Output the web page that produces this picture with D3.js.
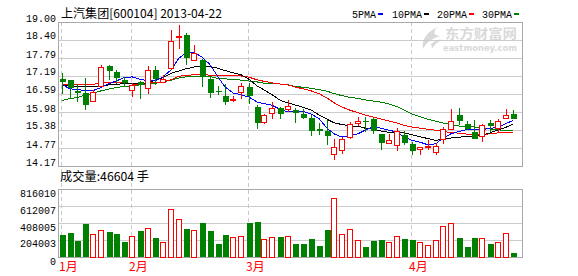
<!DOCTYPE html>
<html>
<head>
<meta charset="utf-8">
<script src="https://cdn.jsdelivr.net/npm/d3@7/dist/d3.min.js"></script>
<style>
  body { margin: 0; background: #fff; }
  svg { display: block; }
</style>
</head>
<body>
<svg id="chart" width="578" height="276"></svg>
<script>
// trading days shown (2013)
const dates = [
  '01-21','01-22','01-23','01-24','01-25','01-28','01-29','01-30','01-31',
  '02-01','02-04','02-05','02-06','02-07','02-08','02-18','02-19','02-20','02-21','02-22','02-25','02-26','02-27','02-28',
  '03-01','03-04','03-05','03-06','03-07','03-08','03-11','03-12','03-13','03-14','03-15','03-18','03-19','03-20','03-21','03-22','03-25','03-26','03-27','03-28','03-29',
  '04-01','04-02','04-03','04-08','04-09','04-10','04-11','04-12','04-15','04-16','04-17','04-18','04-19','04-22'
];
const opens = [17.08,17.04,16.70,16.62,16.36,16.85,17.52,17.32,17.04,16.74,
  16.99,16.81,17.38,16.99,17.43,18.52,18.55,17.75,17.73,17.10,
  16.69,16.52,16.36,16.63,16.82,16.15,15.62,15.96,16.12,16.06,
  16.06,15.90,15.78,15.42,15.34,14.56,14.70,15.12,15.60,15.68,
  15.74,15.23,14.93,14.86,15.22,14.91,14.74,14.80,14.64,15.07,
  15.42,15.87,15.57,15.31,15.20,15.62,15.42,15.80,15.90];
const highs = [17.29,17.05,16.93,17.12,16.72,17.56,17.57,17.40,17.14,16.97,
  17.03,17.52,17.52,17.21,18.73,18.89,18.63,18.22,17.77,17.16,
  16.85,16.93,16.52,16.95,16.95,16.21,15.90,16.32,16.15,16.37,
  16.12,16.07,15.87,15.62,15.70,15.09,15.14,15.65,15.81,15.81,
  15.79,15.25,15.25,15.44,15.33,14.97,14.80,15.03,14.95,15.48,
  16.09,16.13,15.67,15.70,15.59,15.70,15.76,16.09,16.04];
const lows = [16.60,16.45,16.32,16.06,16.35,16.81,17.05,16.93,16.83,16.48,
  16.43,16.60,16.88,16.94,17.39,18.10,17.57,17.68,16.82,16.45,
  16.54,16.23,16.32,16.43,16.24,15.42,15.59,15.76,15.76,15.98,
  15.62,15.74,15.18,15.20,14.88,14.36,14.58,15.09,15.51,15.31,
  15.25,14.72,14.93,14.68,14.88,14.55,14.55,14.70,14.55,14.92,
  15.37,15.54,15.37,15.07,14.97,15.31,15.29,15.76,15.74];
const closes = [16.99,16.79,16.63,16.23,16.65,17.48,17.37,17.13,16.95,16.90,
  16.89,17.40,17.10,17.10,18.35,18.54,17.79,17.97,17.18,16.63,
  16.67,16.32,16.41,16.84,16.52,15.62,15.87,16.12,15.92,16.17,
  15.95,15.78,15.35,15.33,15.18,14.81,15.07,15.57,15.68,15.66,
  15.33,14.95,15.03,15.33,14.95,14.67,14.80,14.84,14.85,15.42,
  15.68,15.67,15.42,15.09,15.56,15.51,15.67,15.89,15.76];
const volumes = [264000,292000,192000,396000,276000,320000,300000,276000,180000,248000,
  312000,344000,228000,180000,572000,452000,336000,320000,412000,312000,
  156000,264000,236000,248000,404000,420000,212000,236000,240000,248000,
  156000,156000,216000,132000,324000,704000,272000,332000,200000,116000,
  192000,204000,178000,248000,216000,204000,176000,140000,200000,368000,
  404000,228000,120000,228000,224000,156000,176000,284000,46604];
const ma5 = [16.90,16.76,16.73,16.71,16.70,16.80,16.93,17.02,17.13,17.16,
  17.08,17.03,17.03,17.16,17.39,17.79,17.96,17.97,17.83,17.57,
  17.16,16.82,16.62,16.56,16.48,16.32,16.26,16.21,16.07,15.98,
  16.01,16.00,15.92,15.76,15.44,15.25,15.14,15.18,15.25,15.37,
  15.48,15.44,15.37,15.31,15.14,15.03,14.97,14.88,14.92,15.11,
  15.25,15.33,15.39,15.40,15.40,15.42,15.48,15.59,15.70];
const ma10 = [16.88,16.85,16.83,16.82,16.83,16.86,16.89,16.91,16.93,16.93,
  16.93,16.96,17.04,17.13,17.28,17.36,17.43,17.49,17.51,17.50,
  17.45,17.37,17.30,17.23,17.08,16.86,16.72,16.56,16.38,16.28,
  16.22,16.14,16.05,15.88,15.74,15.62,15.56,15.52,15.50,15.44,
  15.41,15.34,15.30,15.29,15.28,15.22,15.15,15.09,15.03,15.07,
  15.11,15.14,15.15,15.18,15.21,15.28,15.38,15.47,15.58];
const ma20 = [16.91,16.91,16.91,16.91,16.91,16.95,16.98,16.98,16.96,16.92,
  16.92,16.95,16.96,17.00,17.06,17.18,17.21,17.23,17.23,17.22,
  17.21,17.21,17.20,17.19,17.15,17.06,17.01,16.96,16.92,16.89,
  16.82,16.76,16.69,16.60,16.45,16.29,16.15,16.04,15.96,15.88,
  15.81,15.75,15.68,15.61,15.53,15.48,15.44,15.40,15.37,15.32,
  15.30,15.27,15.24,15.22,15.22,15.25,15.28,15.29,15.29];
const ma30 = [16.37,16.43,16.47,16.54,16.61,16.69,16.75,16.80,16.84,16.86,
  16.89,16.91,16.94,16.99,17.05,17.12,17.16,17.17,17.18,17.17,
  17.11,17.09,17.08,17.05,17.02,16.99,16.95,16.94,16.92,16.89,
  16.84,16.81,16.78,16.73,16.68,16.60,16.53,16.47,16.44,16.39,
  16.35,16.31,16.25,16.16,16.05,15.91,15.82,15.74,15.67,15.61,
  15.56,15.51,15.50,15.48,15.44,15.41,15.38,15.37,15.37];
const priceTicks = ['19.00','18.40','17.79','17.19','16.59','15.98','15.38','14.77','14.17'];
const volTicks = ['0','204003','408005','612007','816010'];
const maNames = ['5PMA','10PMA','20PMA','30PMA'];
const maColors = ['#0000ff','#000000','#ff0000','#008000'];

const UP = '#ff0000', DOWN = '#008000';
const plotLeft = 58, plotRight = 522;
const priceTop = 22, priceBottom = 166;
const volTop = 189, volBottom = 257;
const numFont = '"Liberation Mono", "DejaVu Sans Mono", monospace';
const cjkFont = '"Noto Sans CJK SC", "DejaVu Sans", sans-serif';

var svg = d3.select('#chart');
svg.append('rect').attr('width', 578).attr('height', 276).attr('fill', '#fff');

var x = d3.scaleBand().domain(dates).range([plotLeft, 517.3]);
var cx = function (i) { return Math.round(x(dates[i]) + x.bandwidth() / 2); };
var y = d3.scaleLinear().domain([14.17, 19.00]).range([priceBottom, priceTop]);
var yv = d3.scaleLinear().domain([0, 816010]).range([volBottom, volTop]);

//watermark
var wm = svg.append('g').attr('fill', '#d9d9d9');
wm.append('path')
  .attr('d', 'M438,27 C428,31 421,39 423,49 C427,42 432,38 441,36 C434,36 432,32 438,27 Z M431,44 C435,40 439,39 442,40 C437,42 434,45 432,49 Z');
wm.append('text').attr('x', 445).attr('y', 38)
  .attr('font-family', cjkFont).attr('font-size', 13).attr('font-weight', 'bold')
  .attr('textLength', 72).attr('lengthAdjust', 'spacingAndGlyphs').text('东方财富网');
wm.append('text').attr('x', 443).attr('y', 51)
  .attr('font-family', '"DejaVu Sans", sans-serif').attr('font-size', 9).attr('font-weight', 'bold')
  .attr('textLength', 74).attr('lengthAdjust', 'spacingAndGlyphs').text('eastmoney.com');

//grid + tick labels
var styleAxis = function (g, dy) {
  g.select('.domain').remove();
  g.selectAll('line').attr('stroke', '#cccccc').attr('shape-rendering', 'crispEdges');
  g.selectAll('text')
    .attr('fill', '#000')
    .attr('dy', dy)
    .attr('font-family', numFont)
    .attr('font-size', 11)
    .attr('lengthAdjust', 'spacingAndGlyphs')
    .attr('textLength', function (d) { return String(this.textContent).length * 6; });
};

svg.append('g')
  .attr('transform', 'translate(' + plotLeft + ',0)')
  .call(d3.axisLeft(y)
    .tickValues(priceTicks.map(Number))
    .tickFormat(function (d, i) { return priceTicks[i]; })
    .tickSize(-(plotRight - plotLeft))
    .tickPadding(2))
  .call(styleAxis, '-1px');

svg.append('g')
  .attr('transform', 'translate(' + plotLeft + ',0)')
  .call(d3.axisLeft(yv)
    .tickValues(volTicks.map(Number))
    .tickFormat(function (d, i) { return volTicks[i]; })
    .tickSize(-(plotRight - plotLeft))
    .tickPadding(2))
  .call(styleAxis, '7px');

//month separators
var monthStarts = [];
dates.forEach(function (d, i) {
  if (i === 0 || d.slice(0, 2) !== dates[i - 1].slice(0, 2)) monthStarts.push(i);
});
svg.append('g').selectAll('line')
  .data(monthStarts).enter().append('line')
  .attr('x1', function (i) { return cx(i) - 0.5; })
  .attr('x2', function (i) { return cx(i) - 0.5; })
  .attr('y1', priceTop).attr('y2', volBottom)
  .attr('stroke', '#c8c8c8')
  .attr('stroke-dasharray', '4,3')
  .attr('shape-rendering', 'crispEdges');
svg.append('g').selectAll('text')
  .data(monthStarts).enter().append('text')
  .attr('x', function (i) { return cx(i) - 3; })
  .attr('y', 271)
  .attr('fill', '#ff0000')
  .attr('font-family', cjkFont)
  .attr('font-size', 12)
  .text(function (i) { return (+dates[i].slice(0, 2)) + '月'; });

//frames
[[priceTop, priceBottom], [volTop, volBottom]].forEach(function (p) {
  svg.append('rect')
    .attr('x', plotLeft + 0.5).attr('y', p[0] + 0.5)
    .attr('width', plotRight - plotLeft).attr('height', p[1] - p[0])
    .attr('fill', 'none').attr('stroke', '#a8a8a8')
    .attr('shape-rendering', 'crispEdges');
});

//moving averages
var maSeries = [ma5, ma10, ma20, ma30];
var line = d3.line()
  .x(function (d, i) { return cx(i); })
  .y(function (d) { return y(d); });
var maGroup = svg.append('g');
maSeries.slice().reverse().forEach(function (s, k) {
  maGroup.append('path')
    .attr('d', line(s))
    .attr('fill', 'none')
    .attr('stroke', maColors[3 - k])
    .attr('stroke-width', 1)
    .attr('shape-rendering', 'crispEdges');
});

//candles
var candles = svg.append('g').attr('shape-rendering', 'crispEdges');
dates.forEach(function (d, i) {
  var o = y(opens[i]), c = y(closes[i]), h = y(highs[i]), l = y(lows[i]);
  var up = closes[i] > opens[i];
  var xc = cx(i);
  if (up) {
    candles.append('line').attr('x1', xc).attr('x2', xc).attr('y1', h).attr('y2', c).attr('stroke', UP);
    candles.append('line').attr('x1', xc).attr('x2', xc).attr('y1', o).attr('y2', l).attr('stroke', UP);
    candles.append('rect')
      .attr('x', xc - 2.5).attr('y', Math.round(c) + 0.5)
      .attr('width', 5).attr('height', Math.max(1, Math.round(o - c)))
      .attr('fill', '#fff').attr('stroke', UP);
  } else {
    candles.append('line').attr('x1', xc + 0.5).attr('x2', xc + 0.5).attr('y1', h).attr('y2', l).attr('stroke', DOWN);
    candles.append('rect')
      .attr('x', xc - 2.5).attr('y', o)
      .attr('width', 6).attr('height', Math.max(1.5, c - o))
      .attr('fill', DOWN);
  }
});

//volume bars
var vols = svg.append('g').attr('shape-rendering', 'crispEdges');
vols.selectAll('rect')
  .data(volumes).enter().append('rect')
  .attr('x', function (v, i) { return cx(i) - 2.5; })
  .attr('y', function (v, i) { return closes[i] > opens[i] ? Math.round(yv(v)) + 0.5 : yv(v); })
  .attr('width', function (v, i) { return closes[i] > opens[i] ? 5 : 6; })
  .attr('height', function (v, i) { return closes[i] > opens[i] ? volBottom - Math.round(yv(v)) - 0.5 : volBottom - yv(v); })
  .attr('fill', function (v, i) { return closes[i] > opens[i] ? '#fff' : DOWN; })
  .attr('stroke', function (v, i) { return closes[i] > opens[i] ? UP : 'none'; });

//title
svg.append('text')
  .attr('x', 61).attr('y', 18)
  .attr('font-family', cjkFont).attr('font-size', 12)
  .attr('textLength', 161).attr('lengthAdjust', 'spacingAndGlyphs')
  .text('上汽集团[600104] 2013-04-22');

//legend
var legendX = [352, 392, 437, 482];
maNames.forEach(function (n, k) {
  svg.append('text')
    .attr('x', legendX[k]).attr('y', 18)
    .attr('font-family', numFont).attr('font-size', 11)
    .attr('textLength', n.length * 6).attr('lengthAdjust', 'spacingAndGlyphs')
    .text(n);
  svg.append('rect')
    .attr('x', legendX[k] + n.length * 6 + 2).attr('y', 13)
    .attr('width', 5).attr('height', 2)
    .attr('fill', maColors[k]);
});

//volume caption
svg.append('text')
  .attr('x', 60).attr('y', 181)
  .attr('font-family', cjkFont).attr('font-size', 12)
  .attr('textLength', 89).attr('lengthAdjust', 'spacingAndGlyphs')
  .text('成交量:' + volumes[volumes.length - 1] + ' 手');
</script>
</body>
</html>
